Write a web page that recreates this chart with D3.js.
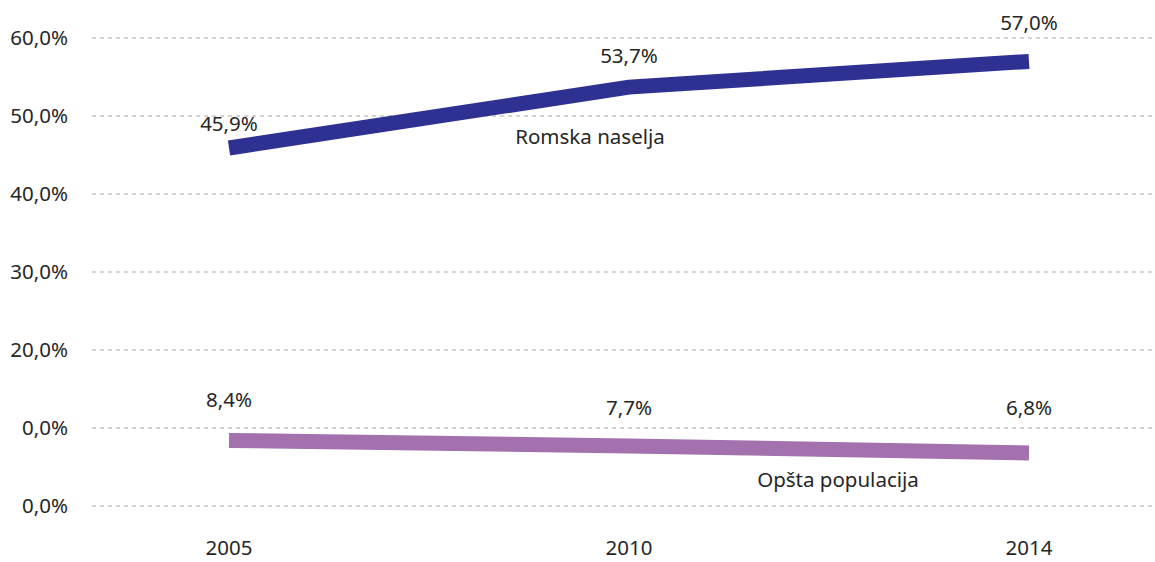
<!DOCTYPE html>
<html>
<head>
    <meta charset="utf-8">
    <style>
        body { margin: 0; background: #fff; }
        text { font-family: "Noto Sans", "Open Sans", sans-serif; fill: #262626; }
        .grid line { stroke: #d4d4d4; stroke-width: 2; stroke-dasharray: 4,4; }
        .axis text { font-size: 20.5px; }
        .lbl { font-size: 20.5px; }
    </style>
    <script src="https://d3js.org/d3.v7.min.js"></script>
</head>
<body>
<svg width="1155" height="562"></svg>
<script>
    var years = ["2005", "2010", "2014"];
    var romska = [45.9, 53.7, 57.0];
    var opsta = [8.4, 7.7, 6.8];
    var yTicks = [0, 10, 20, 30, 40, 50, 60];
    var yTickLabels = ["0,0%", "0,0%", "20,0%", "30,0%", "40,0%", "50,0%", "60,0%"];

    var svg = d3.select("svg");

    var x = d3.scalePoint().domain(years).range([229, 1029]);
    var y = d3.scaleLinear().domain([0, 60]).range([506, 38]);

    // gridlines
    svg.append("g").attr("class", "grid")
        .selectAll("line").data(yTicks).enter().append("line")
        .attr("x1", 92).attr("x2", 1155)
        .attr("y1", function (d) { return y(d); })
        .attr("y2", function (d) { return y(d); });

    // y labels
    svg.append("g").attr("class", "axis")
        .selectAll("text").data(yTicks).enter().append("text")
        .attr("x", 68).attr("y", function (d) { return y(d); })
        .attr("dy", "0.35em").attr("text-anchor", "end")
        .text(function (d, i) { return yTickLabels[i]; });

    // x labels
    svg.append("g").attr("class", "axis")
        .selectAll("text").data(years).enter().append("text")
        .attr("x", function (d) { return x(d); }).attr("y", 548)
        .attr("dy", "0.35em").attr("text-anchor", "middle")
        .text(function (d) { return d; });

    var line = d3.line()
        .x(function (d, i) { return x(years[i]); })
        .y(function (d) { return y(d); });

    var fmt = function (v) { return v.toFixed(1).replace(".", ",") + "%"; };

    var series = [
        { name: "Romska naselja", values: romska, color: "#2e3192", width: 15,
          lblOff: [24, 31, 39], nameX: 590, nameY: 137 },
        { name: "Opšta populacija", values: opsta, color: "#a271ae", width: 15,
          lblOff: [41, 38, 45], nameX: 838, nameY: 480 }
    ];

    series.forEach(function (s) {
        svg.append("path")
            .attr("d", line(s.values))
            .attr("fill", "none")
            .attr("stroke", s.color)
            .attr("stroke-width", s.width)
            .attr("stroke-linecap", "butt");

        svg.append("g").selectAll("text").data(s.values).enter().append("text")
            .attr("class", "lbl")
            .attr("x", function (d, i) { return x(years[i]); })
            .attr("y", function (d, i) { return y(d) - s.lblOff[i]; })
            .attr("dy", "0.35em").attr("text-anchor", "middle")
            .text(fmt);

        svg.append("text").attr("class", "lbl")
            .attr("x", s.nameX).attr("y", s.nameY)
            .attr("dy", "0.35em").attr("text-anchor", "middle")
            .text(s.name);
    });
</script>
</body>
</html>
